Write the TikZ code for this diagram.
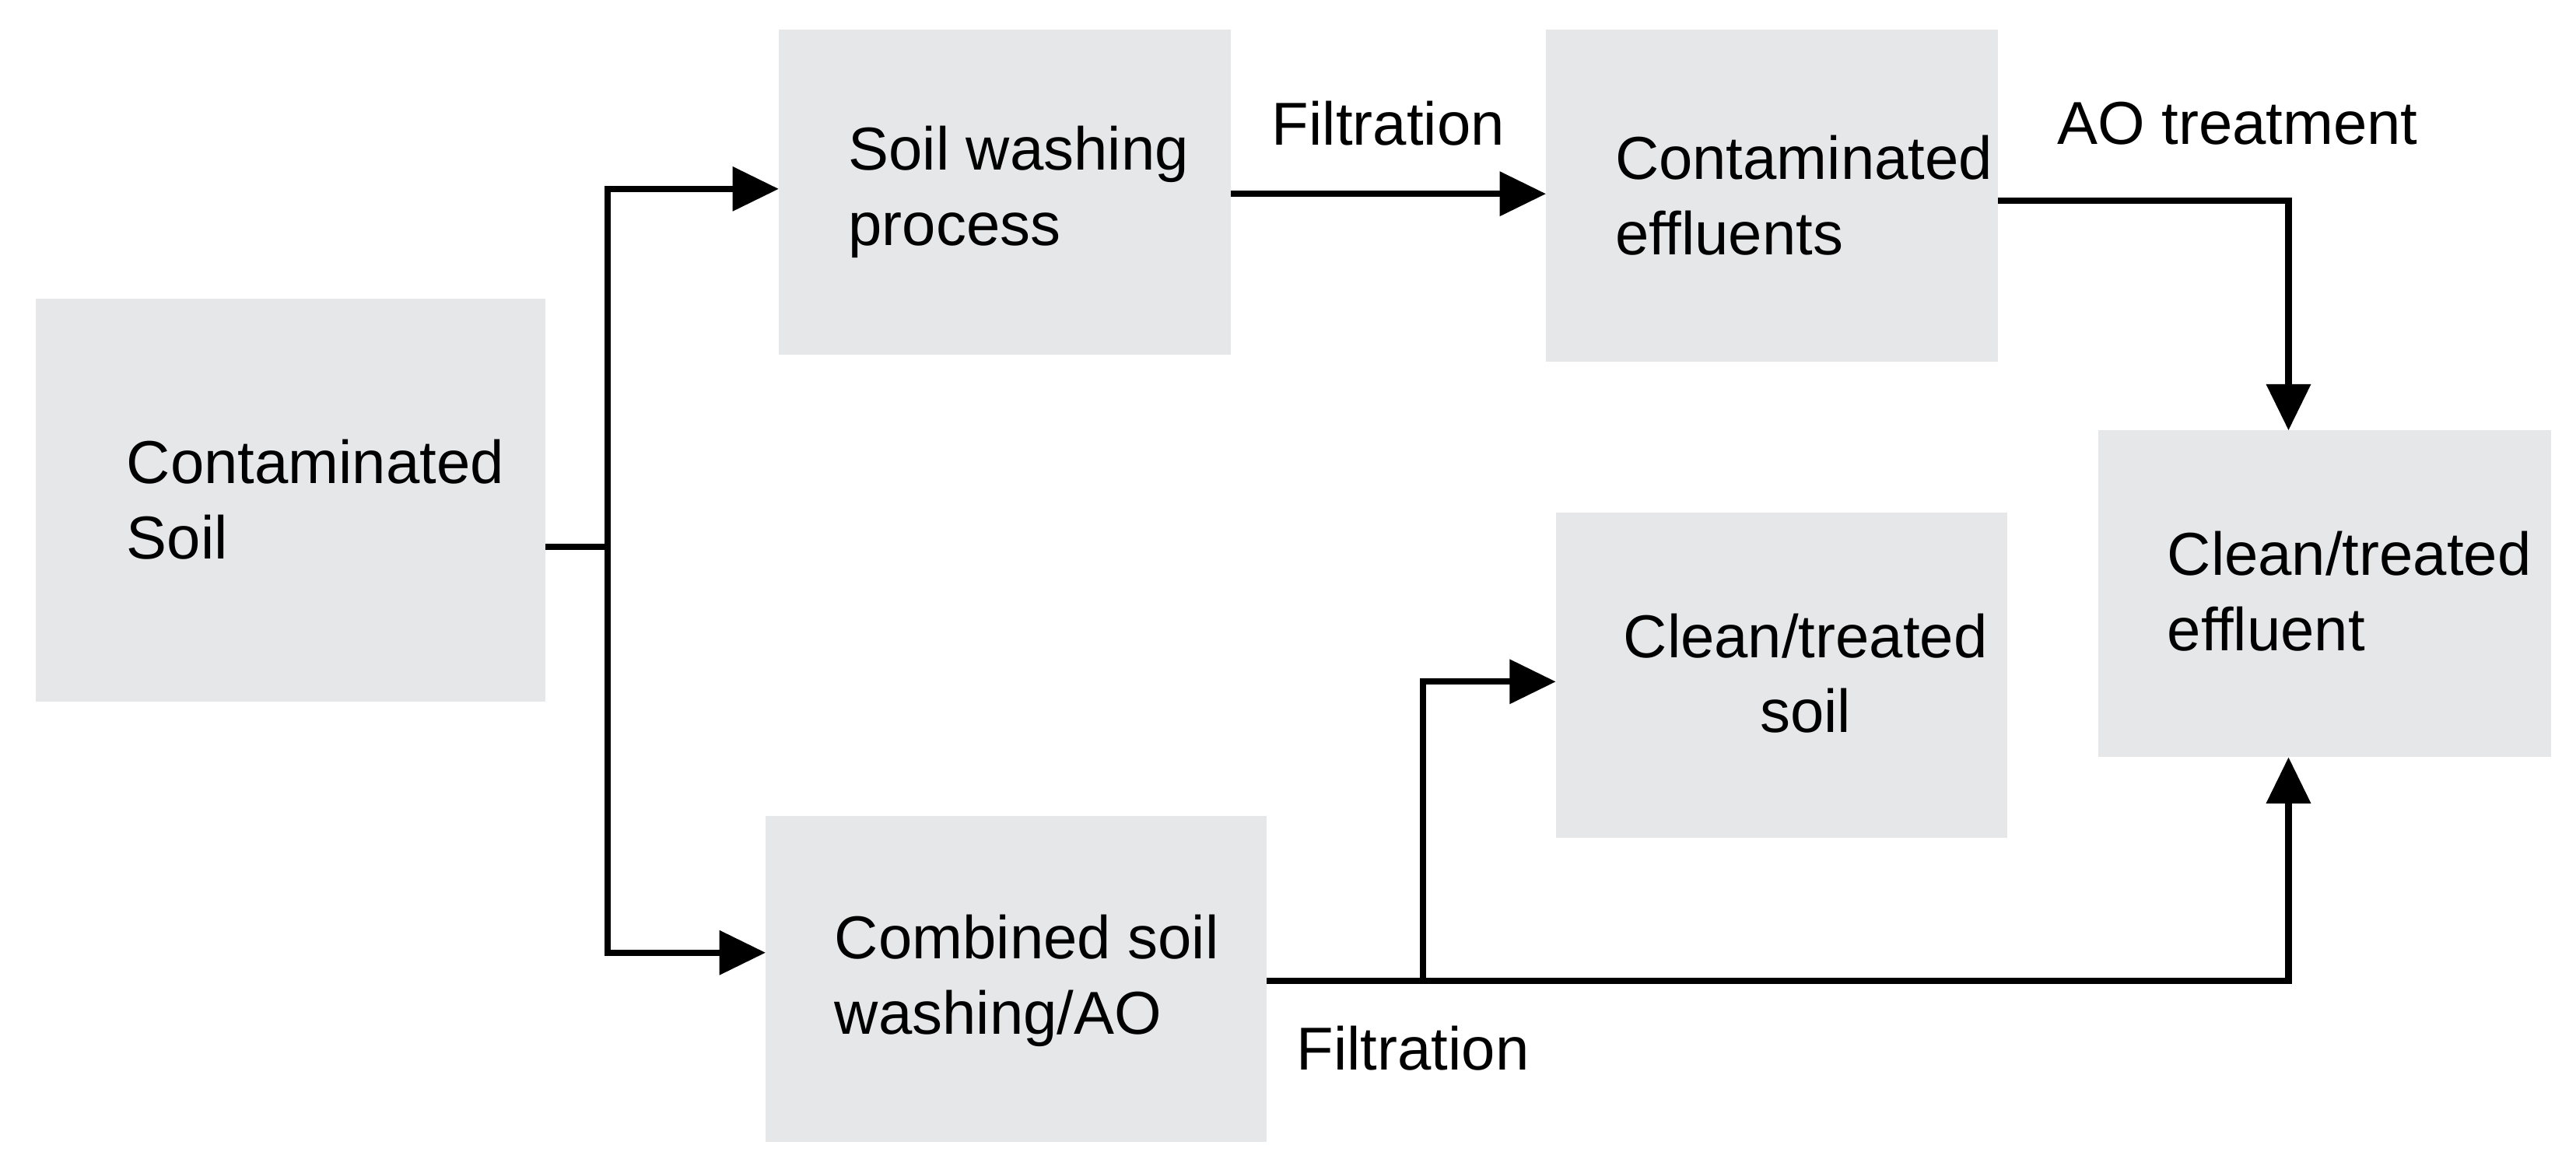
\documentclass[tikz,border=0pt]{standalone}
\usepackage{fontspec}
\setmainfont{Liberation Sans}
\usetikzlibrary{arrows.meta}
\definecolor{boxg}{HTML}{E6E7E8}
\begin{document}
\begin{tikzpicture}[x=0.02cm,y=-0.02cm,
  box/.style={fill=boxg,draw=none,inner sep=0pt},
  txt/.style={font=\fontsize{21}{26}\selectfont,align=left},
  ln/.style={line width=2.2pt},
  arr/.style={ln,-{Triangle[length=16pt,width=15pt]}}]
\fill[white] (0,0) rectangle (1568,714);
\useasboundingbox (0,0) rectangle (1568,714);
\fill[boxg] (22,182) rectangle (332,427);
\node[txt] (cs) at (192,304) {Contaminated\\Soil};
\fill[boxg] (474,18) rectangle (749,216);
\node[txt] (sw) at (620,117) {Soil washing\\process};
\fill[boxg] (941,18) rectangle (1216,220);
\node[txt] (ce) at (1098,119) {Contaminated\\effluents};
\fill[boxg] (1277,262) rectangle (1553,461);
\node[txt] (cte) at (1430,360) {Clean/treated\\effluent};
\fill[boxg] (947,312) rectangle (1222,510);
\node[txt,align=center] (cts) at (1099,410) {Clean/treated\\soil};
\fill[boxg] (466,497) rectangle (771,695);
\node[txt] (cb) at (625,597) {Combined soil\\washing/AO};
\coordinate (j) at (370,333);
\coordinate (swL) at (474,115);
\coordinate (cbL) at (466,580);
\draw[ln] (332,333) -- (j);
\draw[arr] (370,115) -- (swL);
\draw[arr] (370,580) -- (cbL);
\draw[ln] (370,113) -- (370,582);
\draw[arr] (749,118) -- (941,118);
\node[txt] (f1) at (845,75) {Filtration};
\draw[arr] (1216,122) -- (1393,122) -- (1393,262);
\node[txt] (ao) at (1362,75) {AO treatment};
\draw[arr] (771,597) -- (1393,597) -- (1393,461);
\draw[arr] (866,597) -- (866,415) -- (947,415);
\node[txt] (f2) at (860,638) {Filtration};
\end{tikzpicture}
\end{document}
